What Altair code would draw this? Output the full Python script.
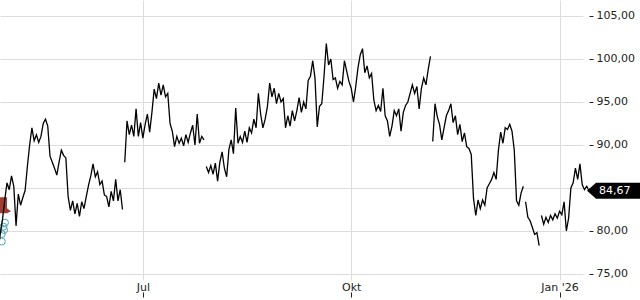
import altair as alt
import pandas as pd

START = "2025-04-28"

# Daily closes/zigzag, split where the original line breaks
seg1 = [77.6, 79.6, 81.3, 83.6, 85.6, 84.8, 86.4, 85.2, 80.6, 84.3,
        83.0, 83.9, 84.7, 87.5, 90.0, 92.0, 90.5, 91.2, 90.3, 91.0,
        92.5, 93.0, 92.2, 88.7, 88.0, 87.3, 86.5, 88.0, 89.4, 88.8,
        88.5, 84.0, 82.4, 83.5, 82.0, 83.2, 81.7, 83.4, 82.6, 84.0,
        85.3, 86.4, 87.8, 86.3, 86.9, 85.4, 85.8, 84.2, 84.0, 82.8,
        84.6, 83.5, 86.0, 83.5, 84.8, 82.5]
seg2 = [88.0, 92.8, 91.2, 92.3, 91.0, 94.2, 91.0, 92.6, 90.8, 92.4,
        93.6, 91.5, 93.8, 96.5, 95.4, 97.2, 95.8, 97.0, 95.6, 96.0,
        92.5, 91.6, 89.8, 91.0, 90.2, 90.8, 89.9, 91.2, 90.3, 91.4,
        92.3, 90.0, 93.6, 90.2, 91.0, 90.6]
seg3 = [87.5, 86.8, 87.6, 86.6, 87.9, 85.8, 88.0, 89.2, 87.3, 86.3,
        89.5, 90.6, 89.0, 94.3, 90.2, 91.0, 90.3, 91.6, 90.3, 92.0,
        91.4, 93.0, 92.0, 96.0, 93.6, 92.0, 93.0, 94.5, 97.2, 95.6,
        96.6, 94.8, 96.0, 95.0, 95.4, 92.0, 93.4, 92.2, 94.0, 92.8,
        94.0, 95.5, 93.8, 95.0, 94.2, 97.5, 98.0, 99.8, 97.8, 92.1,
        94.5, 94.8, 98.0, 101.8, 99.3, 100.0, 97.6, 97.8, 96.6, 97.4,
        97.0, 99.8, 98.6, 97.4, 96.6, 95.0, 96.8, 99.0, 100.5, 101.2,
        98.4, 99.2, 97.8, 98.3, 95.2, 94.0, 94.6, 93.9, 96.6, 93.4,
        92.8, 91.0, 92.2, 94.0, 93.4, 94.2, 91.6, 93.8, 94.6, 95.0,
        96.0, 97.0, 96.0, 96.8, 94.2, 96.6, 97.8, 97.0, 98.8, 100.3]
seg4 = [90.4, 94.8, 93.3, 92.4, 90.6, 92.0, 93.4, 94.0, 94.8, 92.6,
        93.4, 91.2, 92.4, 90.4, 91.4, 89.8, 89.6, 88.9, 83.8, 81.8,
        83.6, 82.6, 83.6, 83.0, 85.0, 85.5, 86.0, 86.8, 86.0, 89.4,
        91.5, 90.2, 92.0, 91.8, 92.4, 91.6, 89.4, 83.5, 83.0, 84.4,
        85.2]
seg5 = [83.4, 81.6, 81.2, 80.4, 79.6, 79.8, 78.3]
seg6 = [81.8, 80.8, 81.6, 81.0, 81.8, 81.3, 82.0, 81.5, 82.3, 81.9,
        83.4, 80.0, 81.5, 85.0, 85.6, 87.3, 86.0, 87.8, 85.4, 84.8,
        85.2, 84.67]
segments = [seg1, seg2, seg3, seg4, seg5, seg6]

# event markers (day offset from START, price)
flag_days = [0.9]
flag_prices = [83.0]
circle_days = [3.1, 2.4, 2.7, 1.7, 1.7]
circle_prices = [80.97, 80.5, 80.12, 79.65, 78.78]

y_ticks = [75, 80, 85, 90, 95, 100, 105]

t0 = pd.Timestamp(START)


def iso(day):
    return (t0 + pd.Timedelta(days=day)).strftime("%Y-%m-%dT%H:%M:%S")


rows = []
day = 0
for i, seg in enumerate(segments):
    for v in seg:
        rows.append({"date": iso(day), "price": v, "seg": i})
        day += 1
df = pd.DataFrame(rows)

last = df.iloc[[-1]].copy()
last_price = float(last["price"].iloc[0])
last["label"] = f"{last_price:.2f}".replace(".", ",")

flags = pd.DataFrame({"date": [iso(d) for d in flag_days], "price": flag_prices})
circles = pd.DataFrame({"date": [iso(d) for d in circle_days], "price": circle_prices})

x_domain = [
    alt.DateTime(year=2025, month=4, date=28, hours=21, minutes=56),
    alt.DateTime(year=2026, month=1, date=11, hours=8, minutes=24),
]
x_ticks = [
    alt.DateTime(year=2025, month=7, date=1),
    alt.DateTime(year=2025, month=10, date=1),
    alt.DateTime(year=2026, month=1, date=1),
]

W, H = 583, 280
FONT = "DejaVu Sans"

x_enc = alt.X(
    "date:T",
    scale=alt.Scale(domain=x_domain, nice=False),
    axis=alt.Axis(
        orient="top", offset=-(H + 17), values=x_ticks,
        labelExpr="month(datum.value) == 6 ? 'Jul' : month(datum.value) == 9 ? 'Okt' : \"Jan '26\"",
        grid=True, gridColor="#dcdcdc", gridWidth=1, domain=False,
        ticks=True, tickSize=5, tickColor="#222222", labelPadding=0,
        labelFont=FONT, labelFontSize=11, labelColor="#222222",
        labelFlush=False, labelOverlap=False, title=None,
    ),
)
# the label of the tick hidden behind the last-price box is left blank
y_enc = alt.Y(
    "price:Q",
    scale=alt.Scale(domain=[74.302, 106.86], nice=False, zero=False),
    axis=alt.Axis(
        orient="right", values=y_ticks,
        labelExpr=f"abs(datum.value - {last_price}) < 1.5 ? '' : replace(format(datum.value, '.2f'), '.', ',')",
        grid=True, gridColor="#dcdcdc", gridWidth=1, domain=False,
        ticks=True, tickSize=4, tickColor="#222222", offset=6, labelPadding=3,
        labelFont=FONT, labelFontSize=11, labelColor="#222222", title=None,
    ),
)

flag_layer = alt.Chart(flags).mark_point(
    shape="M-9,-8 L7,-8 L7,3 L11,6 L7,8 L-9,8 Z", size=4, filled=True,
    color="#a23b30", opacity=1, strokeWidth=0,
).encode(x=x_enc, y=y_enc)

circle_layer = alt.Chart(circles).mark_point(
    shape="circle", size=49, filled=False, color="#4aa5b5", opacity=1, strokeWidth=1,
).encode(x=x_enc, y=y_enc)

line_layer = alt.Chart(df).mark_line(color="black", strokeWidth=1.3).encode(
    x=x_enc, y=y_enc, detail="seg:N"
)

box_layer = alt.Chart(last).mark_point(
    shape="M-2,0 L7,-8 L60,-8 L60,8 L7,8 Z", size=4, filled=True,
    color="black", opacity=1, strokeWidth=0,
).encode(x=x_enc, y=y_enc)

text_layer = alt.Chart(last).mark_text(
    align="left", baseline="middle", dx=10, font=FONT, fontSize=11, color="white",
).encode(x=x_enc, y=y_enc, text="label:N")

chart = alt.layer(flag_layer, circle_layer, line_layer, box_layer, text_layer).properties(
    width=W, height=H,
    padding={"left": 0, "top": 0, "right": 640 - W, "bottom": 300 - H},
    autosize=alt.AutoSizeParams(type="none"),
    background="white",
).configure_view(strokeWidth=0)

chart.save("out.html", embed_options={"renderer": "svg", "actions": False})
